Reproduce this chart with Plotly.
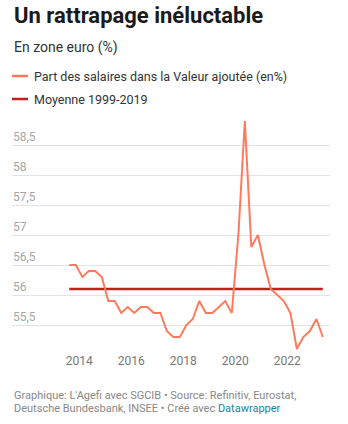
import pandas as pd
import plotly.graph_objects as go

# ---- data ----
quarters = [str(p) for p in pd.period_range("2013Q3", "2023Q2", freq="Q")]
wage_share = [56.5, 56.5, 56.3, 56.4, 56.4, 56.3, 55.9, 55.9, 55.7, 55.8,
              55.7, 55.8, 55.8, 55.7, 55.7, 55.4, 55.3, 55.3, 55.5, 55.6,
              55.9, 55.7, 55.7, 55.8, 55.9, 55.7, 57.0, 58.9, 56.8, 57.0,
              56.5, 56.1, 56.0, 55.9, 55.7, 55.1, 55.3, 55.4, 55.6, 55.3]
avg_value = 56.1
y_ticks = [55.5, 56, 56.5, 57, 57.5, 58, 58.5]
y_tick_labels = ["55,5", "56", "56,5", "57", "57,5", "58", "58,5"]
x_tick_years = ["2014", "2016", "2018", "2020", "2022"]
series_names = ["Part des salaires dans la Valeur ajoutée (en%)", "Moyenne 1999-2019"]

dates = [pd.Period(q, freq="Q").start_time + pd.Timedelta(days=45) for q in quarters]
x_tick_dates = [f"{y}-01-01" for y in x_tick_years]

W, H = 348, 424
L, R, T, B = 12, 18, 118, 72
PW, PH = W - L - R, H - T - B

def px(x):
    return (x - L) / PW

def py(y):
    return (T + PH - y) / PH

MAIN = "#ff7a5c"
AVG = "#c71e1d"
FONT = "Roboto"

fig = go.Figure()
fig.add_trace(go.Scatter(x=[dates[0], dates[-1]], y=[avg_value, avg_value], mode="lines",
                         line=dict(color=AVG, width=2.5), name=series_names[1],
                         hoverinfo="skip"))
fig.add_trace(go.Scatter(x=dates, y=wage_share, mode="lines",
                         line=dict(color=MAIN, width=2), name=series_names[0]))

fig.update_layout(
    width=W, height=H,
    margin=dict(l=L, r=R, t=T, b=B, pad=0),
    paper_bgcolor="white", plot_bgcolor="white",
    showlegend=False,
    separators=", ",
    font=dict(family=FONT, color="#333333"),
    xaxis=dict(type="date", range=["2011-06-03", "2023-08-25"],
               tickvals=x_tick_dates, ticktext=x_tick_years,
               showgrid=False, zeroline=False, showline=False, ticks="",
               tickfont=dict(size=12, color="#777777")),
    yaxis=dict(range=[55.05, 58.95], tickvals=y_ticks, showticklabels=False,
               showgrid=True, gridcolor="#e3e3e3", gridwidth=1,
               zeroline=False, showline=False, ticks=""),
)

ann = []
for v, lab in zip(y_ticks, y_tick_labels):
    ann.append(dict(x=0, y=v, xref="paper", yref="y", xanchor="left", yanchor="middle",
                    yshift=8, text=lab, showarrow=False, borderpad=0,
                    font=dict(family=FONT, size=12, color="#a6a6a6")))
ann.append(dict(x=px(12), y=py(15), xref="paper", yref="paper", xanchor="left", yanchor="middle",
                text="<b>Un rattrapage inéluctable</b>", showarrow=False,
                font=dict(family=FONT, size=22, color="#1a1a1a")))
ann.append(dict(x=px(12), y=py(48), xref="paper", yref="paper", xanchor="left", yanchor="middle",
                text="En zone euro (%)", showarrow=False,
                font=dict(family=FONT, size=14, color="#333333")))
ann.append(dict(x=px(32), y=py(76), xref="paper", yref="paper", xanchor="left", yanchor="middle",
                text=series_names[0], showarrow=False,
                font=dict(family=FONT, size=12.5, color="#333333")))
ann.append(dict(x=px(32), y=py(99), xref="paper", yref="paper", xanchor="left", yanchor="middle",
                text=series_names[1], showarrow=False,
                font=dict(family=FONT, size=12.5, color="#333333")))
ann.append(dict(x=px(12), y=py(395), xref="paper", yref="paper", xanchor="left", yanchor="middle",
                text="Graphique: L'Agefi avec SGCIB • Source: Refinitiv, Eurostat,", showarrow=False,
                font=dict(family=FONT, size=11, color="#888888")))
ann.append(dict(x=px(12), y=py(408), xref="paper", yref="paper", xanchor="left", yanchor="middle",
                text="Deutsche Bundesbank, INSEE • Créé avec <span style='color:#1d81a2'>Datawrapper</span>",
                showarrow=False, font=dict(family=FONT, size=11, color="#888888")))
fig.update_layout(annotations=ann)

fig.add_shape(type="line", xref="paper", yref="paper", x0=px(12), x1=px(28), y0=py(76), y1=py(76),
              line=dict(color=MAIN, width=2.5))
fig.add_shape(type="line", xref="paper", yref="paper", x0=px(12), x1=px(28), y0=py(99), y1=py(99),
              line=dict(color=AVG, width=2.5))

fig.write_html("out.html")
